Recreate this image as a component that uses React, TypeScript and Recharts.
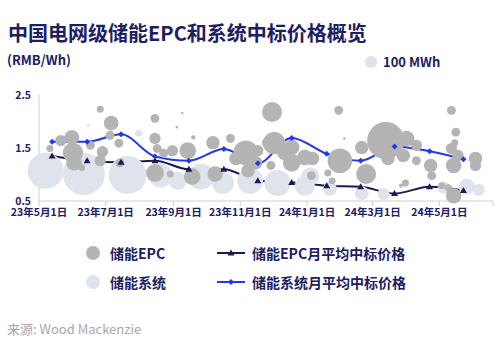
import React from 'react';
import { ComposedChart, Scatter, Line, XAxis, YAxis } from 'recharts';

// x = days since 2023-05-01, y = RMB/Wh, z = MWh
const TICK_DAYS = [0, 61, 123, 184, 245, 305, 366, 415];
const TICK_LABELS = ['23年5月1日', '23年7月1日', '23年9月1日', '23年11月1日', '24年1月1日', '24年3月1日', '24年5月1日', ''];
const PRICE_TICKS = [0.5, 1.5, 2.5];

const MONTHS = ['2023-05', '2023-06', '2023-07', '2023-08', '2023-09', '2023-10', '2023-11', '2023-12', '2024-01', '2024-02', '2024-03', '2024-04', '2024-05'];
const MONTH_DAYS = [12, 44, 75, 106, 137, 169, 200, 231, 263, 294, 325, 357, 388];
const EPC_AVG = [1.35, 1.26, 1.23, 1.26, 1.1, 1.1, 0.88, 0.85, 0.79, 0.77, 0.64, 0.77, 0.7];
const SYS_AVG = [1.62, 1.62, 1.76, 1.34, 1.26, 1.48, 1.21, 1.69, 1.39, 1.26, 1.53, 1.44, 1.29];

// [day, price, MWh]
const EPC_BIDS = [
  [56, 2.23, 40], [66, 1.97, 180], [30, 1.7, 180], [20, 1.64, 105], [10, 1.49, 40],
  [31, 1.41, 340], [32, 1.22, 200], [58, 1.43, 105], [56, 1.26, 105], [73, 1.59, 65],
  [74, 1.22, 65], [39, 1.13, 40], [65, 1.74, 65], [47, 1.55, 65],
  [106, 2.06, 65], [106, 1.68, 105], [108, 1.49, 65], [122, 1.45, 105], [114, 1.4, 65],
  [106, 1.03, 260], [136, 1.45, 230], [140, 0.96, 230], [120, 1.01, 40],
  [126, 1.89, 5], [141, 1.7, 15], [131, 2.16, 5],
  [159, 1.6, 150], [161, 1.01, 200], [175, 1.68, 65], [189, 1.41, 500], [180, 1.3, 150],
  [198, 1.22, 150], [191, 1.07, 150], [200, 1.45, 105], [209, 1.6, 105], [213, 2.18, 330],
  [215, 1.59, 410], [231, 1.51, 200], [231, 1.22, 260], [243, 1.32, 200], [250, 1.3, 150],
  [212, 1.17, 65], [275, 1.26, 500], [264, 1.03, 40], [268, 0.88, 40], [249, 0.98, 65],
  [274, 2.21, 65], [279, 1.68, 5], [224, 1.4, 150],
  [295, 1.51, 150], [299, 1.01, 330], [317, 1.64, 1150], [336, 1.68, 200], [345, 1.55, 105],
  [333, 1.36, 150], [345, 1.26, 65], [319, 1.3, 150], [358, 1.17, 150], [359, 0.98, 65],
  [335, 0.84, 40], [331, 0.79, 15],
  [377, 2.21, 65], [381, 1.8, 65], [380, 1.6, 40], [377, 1.49, 105], [383, 1.36, 105],
  [379, 1.17, 200], [399, 1.3, 150], [399, 1.17, 105], [379, 0.6, 200], [368, 0.79, 40],
  [374, 0.75, 40],
];

const SYSTEM_BIDS = [
  [6, 1.07, 1070], [41, 1.01, 1460], [81, 0.99, 1190], [111, 0.98, 475], [127, 0.88, 270],
  [148, 0.96, 560], [168, 0.84, 400], [193, 0.88, 560], [218, 0.84, 560], [243, 0.79, 330],
  [248, 0.96, 270], [266, 0.73, 160], [295, 0.65, 160], [315, 0.63, 120], [370, 0.75, 120],
  [391, 0.77, 210], [402, 0.71, 120], [91, 1.78, 40], [45, 1.93, 7],
];

const NAVY = '#1c2060';
const EPC_LINE = '#1b1b4f';
const SYS_LINE = '#2438e6';
const EPC_FILL = '#b4b4b4';
const SYS_FILL = '#dfe3ec';
const AREA_PER_MWH = 0.95;
const FONT = "'Noto Sans CJK SC', 'Noto Sans', sans-serif";

const toPoints = (rows: number[][]) => rows.map(([x, y, z]) => ({ x, y, z }));
const epcPoints = toPoints(EPC_BIDS);
const sysPoints = toPoints(SYSTEM_BIDS);
const epcAvg = MONTHS.map((m, i) => ({ month: m, x: MONTH_DAYS[i], y: EPC_AVG[i] }));
const sysAvg = MONTHS.map((m, i) => ({ month: m, x: MONTH_DAYS[i], y: SYS_AVG[i] }));

const bubble = (fill: string) => (props: any) => {
  const z = props.payload?.z ?? props.z ?? 0;
  const r = Math.sqrt((z * AREA_PER_MWH) / Math.PI);
  return <circle cx={props.cx} cy={props.cy} r={r} fill={fill} />;
};

const triangleDot = (props: any) => {
  const { cx, cy, index } = props;
  return <path key={`t${index}`} d={`M${cx},${cy - 3.5}L${cx + 3.5},${cy + 2.5}L${cx - 3.5},${cy + 2.5}Z`} fill={EPC_LINE} />;
};

const diamondDot = (props: any) => {
  const { cx, cy, index } = props;
  return <path key={`d${index}`} d={`M${cx},${cy - 3}L${cx + 3},${cy}L${cx},${cy + 3}L${cx - 3},${cy}Z`} fill={SYS_LINE} />;
};

const abs = (left: number, top: number, extra: React.CSSProperties = {}): React.CSSProperties => ({
  position: 'absolute',
  left,
  top,
  fontFamily: FONT,
  whiteSpace: 'nowrap',
  ...extra,
});

function LegendLine({ color, marker }: { color: string; marker: 'tri' | 'dia' }) {
  return (
    <svg width={30} height={10} style={{ display: 'block' }}>
      <line x1={0} y1={5} x2={28} y2={5} stroke={color} strokeWidth={2} />
      {marker === 'tri' ? (
        <path d="M14,1.5L17.5,7.5L10.5,7.5Z" fill={color} />
      ) : (
        <path d="M14,2L17,5L14,8L11,5Z" fill={color} />
      )}
    </svg>
  );
}

export default function App() {
  return (
    <div style={{ position: 'absolute', left: 0, top: 0, width: 500, height: 355, background: '#fff', overflow: 'hidden' }}>
      <div style={abs(8, 23, { fontSize: 20, lineHeight: '20px', fontWeight: 700, color: NAVY })}>
        中国电网级储能EPC和系统中标价格概览
      </div>
      <div style={abs(7, 53, { fontSize: 13, lineHeight: '14px', fontWeight: 600, color: NAVY })}>(RMB/Wh)</div>
      <div style={abs(365, 56, { width: 12, height: 12, borderRadius: 6, background: SYS_FILL })} />
      <div style={abs(383, 55, { fontSize: 13, lineHeight: '14px', fontWeight: 600, color: NAVY })}>100 MWh</div>

      <ComposedChart
        width={500}
        height={232}
        margin={{ top: 95, right: 7, bottom: 0, left: 0 }}
        style={{ position: 'absolute', left: 0, top: 0 }}
      >
        <XAxis
          type="number"
          dataKey="x"
          domain={[0, 415]}
          ticks={TICK_DAYS}
          tickFormatter={(v: number) => TICK_LABELS[TICK_DAYS.indexOf(v)] ?? ''}
          interval={0}
          height={31}
          tickSize={5}
          tickMargin={3}
          stroke="#cfcfcf"
          tick={{ fill: NAVY, fontSize: 10.5, fontWeight: 600, fontFamily: FONT }}
        />
        <YAxis
          type="number"
          dataKey="y"
          domain={[0.5, 2.5]}
          ticks={PRICE_TICKS}
          width={39}
          tickLine={false}
          stroke="#cfcfcf"
          tick={{ fill: NAVY, fontSize: 10.5, fontWeight: 700, fontFamily: FONT }}
        />
        <Scatter data={sysPoints} dataKey="y" shape={bubble(SYS_FILL)} isAnimationActive={false} />
        <Scatter data={epcPoints} dataKey="y" shape={bubble(EPC_FILL)} isAnimationActive={false} />
        <Line
          data={epcAvg}
          dataKey="y"
          type="monotone"
          stroke={EPC_LINE}
          strokeWidth={2}
          dot={triangleDot}
          activeDot={false}
          isAnimationActive={false}
        />
        <Line
          data={sysAvg}
          dataKey="y"
          type="monotone"
          stroke={SYS_LINE}
          strokeWidth={2}
          dot={diamondDot}
          activeDot={false}
          isAnimationActive={false}
        />
      </ComposedChart>

      <div style={abs(86, 246, { width: 14, height: 14, borderRadius: 7, background: EPC_FILL })} />
      <div style={abs(110, 244, { fontSize: 14, lineHeight: '18px', fontWeight: 600, color: NAVY })}>储能EPC</div>
      <div style={abs(217, 248)}>
        <LegendLine color={EPC_LINE} marker="tri" />
      </div>
      <div style={abs(252, 244, { fontSize: 14, lineHeight: '18px', fontWeight: 600, color: NAVY })}>储能EPC月平均中标价格</div>

      <div style={abs(86, 275, { width: 14, height: 14, borderRadius: 7, background: SYS_FILL })} />
      <div style={abs(110, 273, { fontSize: 14, lineHeight: '18px', fontWeight: 600, color: NAVY })}>储能系统</div>
      <div style={abs(217, 277)}>
        <LegendLine color={SYS_LINE} marker="dia" />
      </div>
      <div style={abs(252, 273, { fontSize: 14, lineHeight: '18px', fontWeight: 600, color: NAVY })}>储能系统月平均中标价格</div>

      <div style={abs(7, 321, { fontSize: 13, lineHeight: '16px', fontWeight: 400, color: '#a8a8a8' })}>来源: Wood Mackenzie</div>
    </div>
  );
}
